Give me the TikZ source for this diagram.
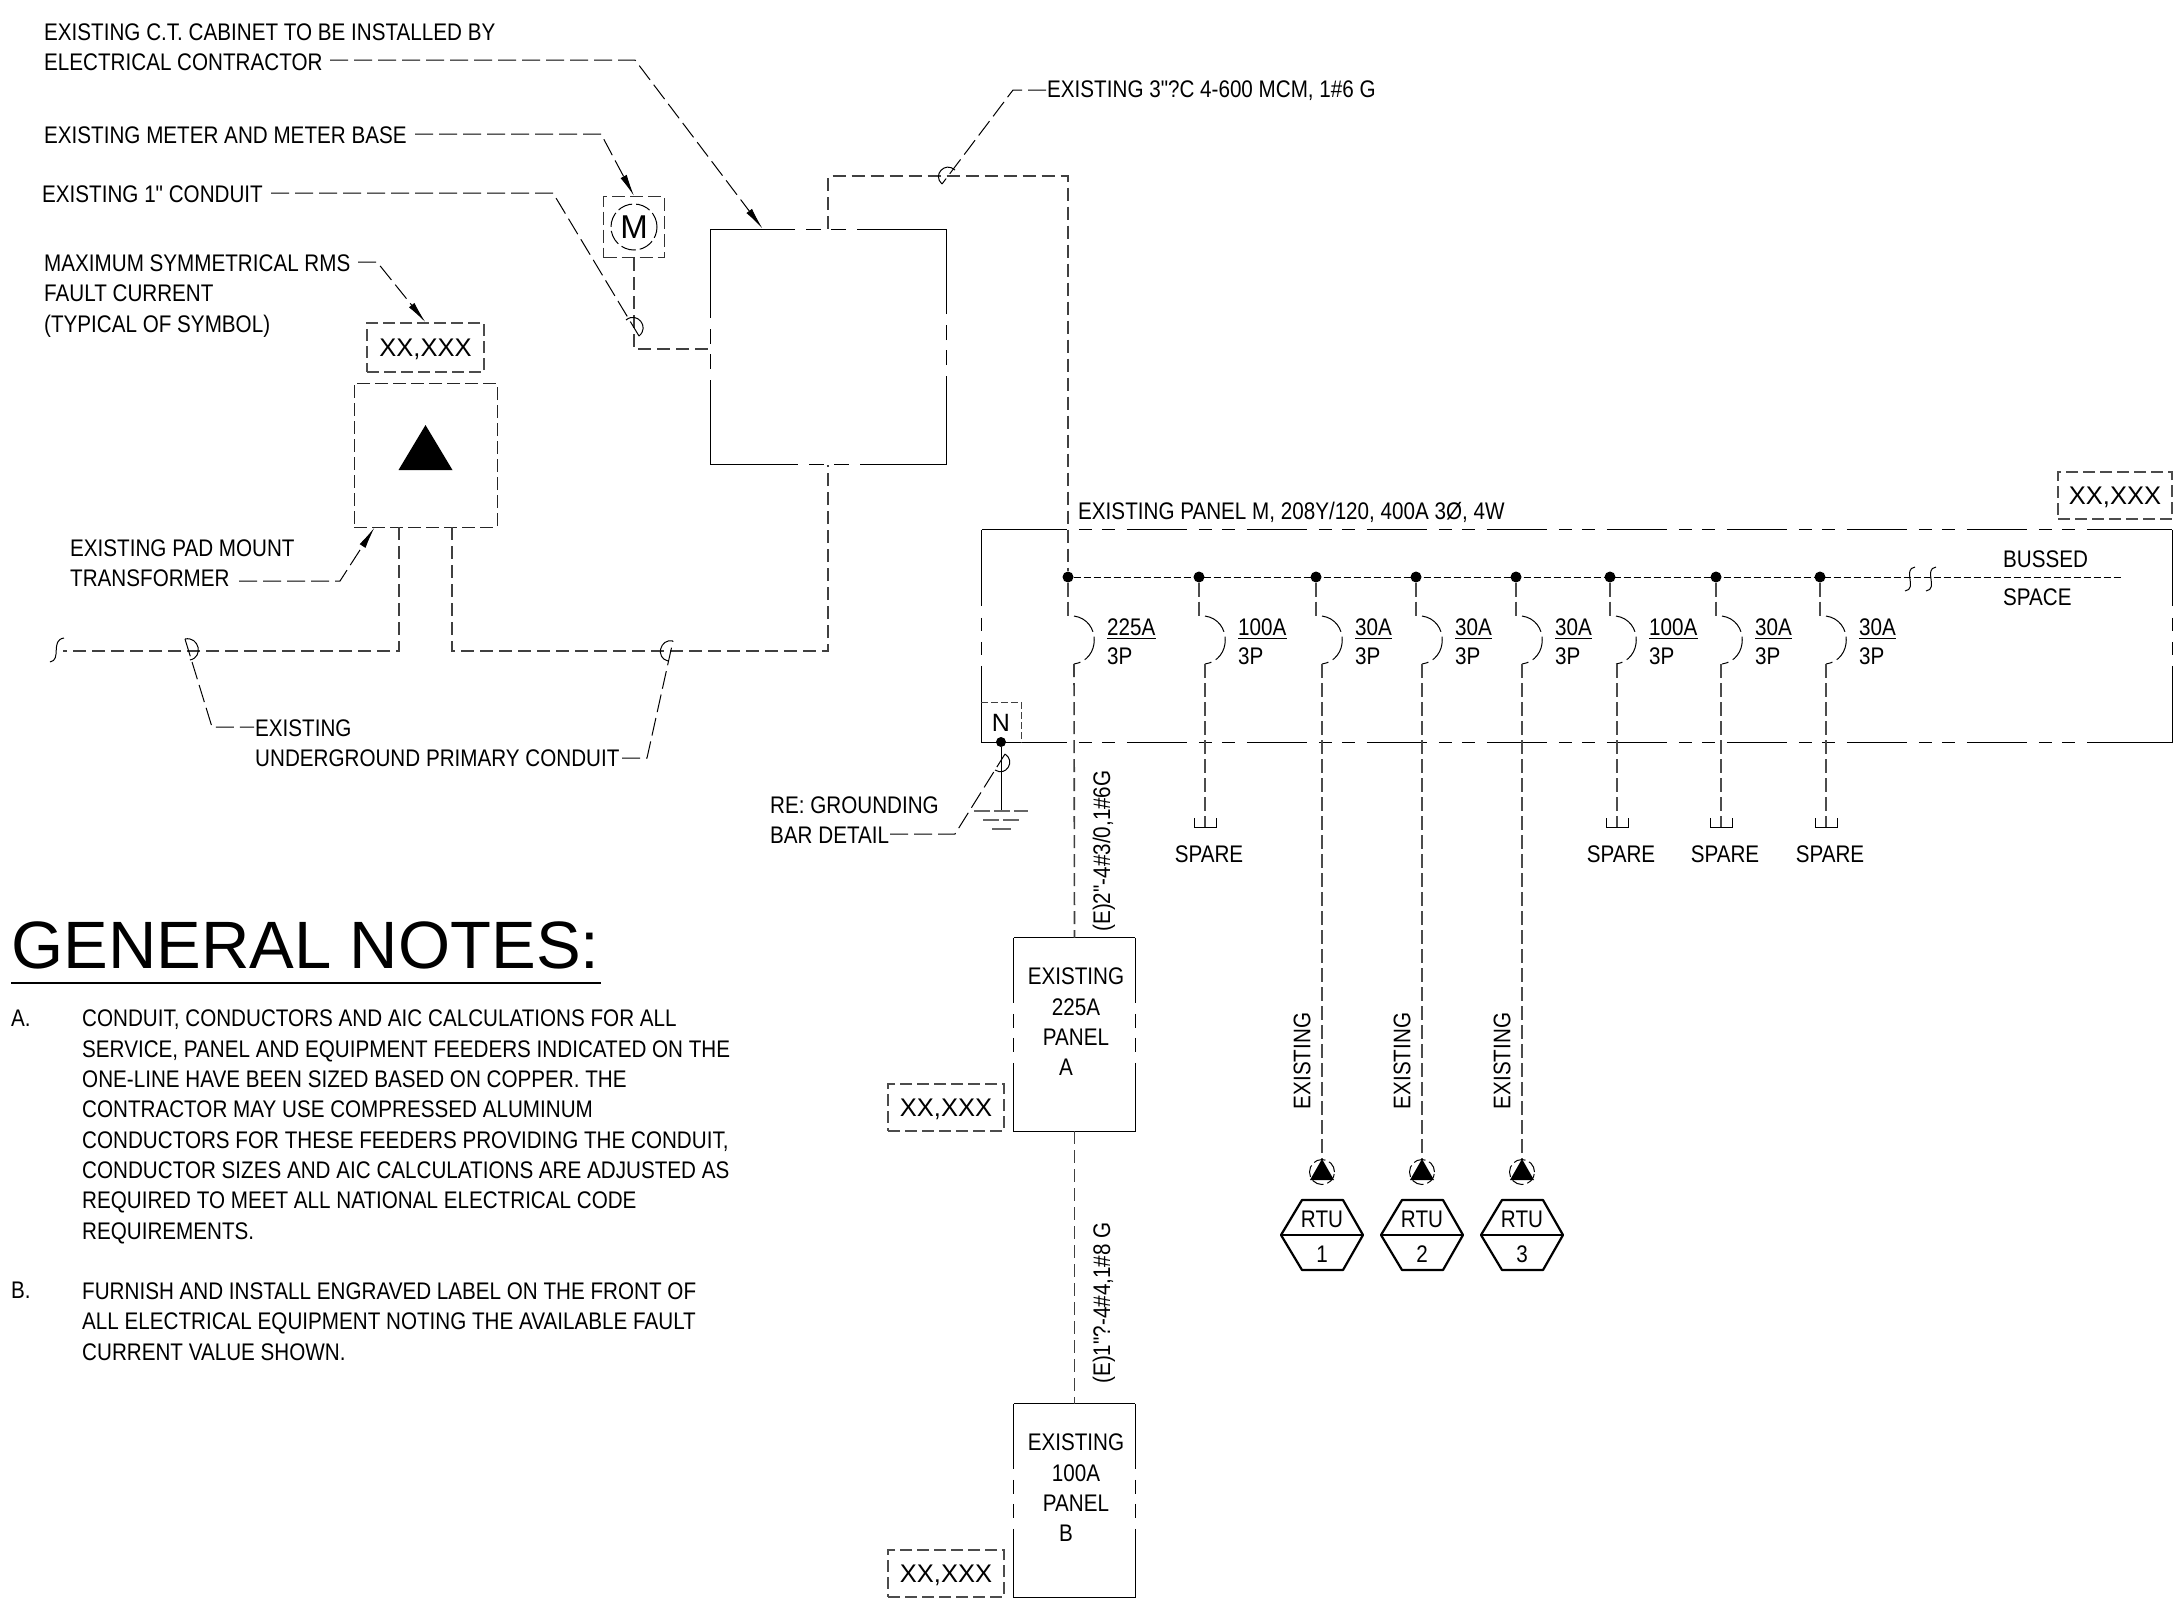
\documentclass[tikz,border=0pt]{standalone}
\usepackage{fontspec}
\setmainfont{Liberation Sans}
\newfontfamily\narrowfont[FakeStretch=0.86]{Liberation Sans}
\newfontfamily\widefont{Liberation Sans}
\usetikzlibrary{arrows.meta}
\tikzset{
  lbl/.style={inner sep=0pt,anchor=west,align=left,font=\narrowfont\fontsize{24}{30.3}\selectfont},
  ctr/.style={inner sep=0pt,align=center,font=\narrowfont\fontsize{24}{30.3}\selectfont},
  xxbox/.style={draw=black!70,line width=1.4pt,dash pattern=on 12pt off 5pt,inner sep=0pt,text height=18pt,text depth=0pt,font=\widefont\fontsize{25.5}{30}\selectfont},
  conduit/.style={draw=black!75,line width=1.6pt,dash pattern=on 13pt off 6pt},
  leader/.style={draw=black,line width=1pt,dash pattern=on 18pt off 6pt},
  feeder/.style={draw=black!70,line width=1.1pt,dash pattern=on 14pt off 5pt},
  tick/.style={draw=black,line width=1pt},
  busdot/.style={circle,fill=black,inner sep=0pt,minimum size=11pt},
  head/.style={-{Latex[length=22pt,width=7pt]}},
  tapbox/.style={inner sep=0pt,minimum width=121pt,minimum height=193pt},
  pnlsolid/.style={draw=black,line width=1.2pt},
  pnldash/.style={draw=black,line width=1.2pt,dash pattern=on 13pt off 10pt on 13pt off 12pt on 60pt off 12pt},
  tapside/.style={draw=black,line width=1.1pt,dash pattern=on 65pt off 11pt on 14pt off 10pt on 14pt off 11pt on 68pt off 0pt}
}
\begin{document}
\begin{tikzpicture}[x=1pt,y=-1pt]
  \useasboundingbox (0,0) rectangle (2180,1615);
  % notes on the left
  \node[lbl] (ctlabel) at (44,47) {EXISTING C.T. CABINET TO BE INSTALLED BY\\ELECTRICAL CONTRACTOR};
  \node[lbl] (meterlabel) at (44,135) {EXISTING METER AND METER BASE};
  \node[lbl] (onelabel) at (42,194) {EXISTING 1" CONDUIT};
  \node[lbl] (faultlabel) at (44,296) {MAXIMUM SYMMETRICAL RMS\\FAULT CURRENT\\(TYPICAL OF SYMBOL)};
  \node[lbl] (padlabel) at (70,563) {EXISTING PAD MOUNT\\TRANSFORMER};
  \node[lbl] (uglabel) at (255,743) {EXISTING\\UNDERGROUND PRIMARY CONDUIT};
  \node[lbl] (gndlabel) at (770,820) {RE: GROUNDING\\BAR DETAIL};
  \node[lbl] (feedlabel) at (1047,91) {EXISTING 3"?C 4-600 MCM, 1\#6 G};
  \node[lbl] (pmlabel) at (1078,512) {EXISTING PANEL M, 208Y/120, 400A 3Ø, 4W};
  % equipment
  \node[inner sep=0pt,draw=black,line width=1pt,minimum width=236pt,minimum height=235pt,
    dash pattern=on 88pt off 11pt on 15pt off 10pt on 15pt off 11pt on 86pt off 0pt] (ctbox) at (828,346.5) {};
  \node[draw=black!80,line width=1.2pt,dash pattern=on 13pt off 5pt,inner sep=0pt,minimum width=61pt,minimum height=61pt] (meterbox) at (634,227) {};
  \node[circle,draw=black,line width=1pt,dash pattern=on 15pt off 4pt,inner sep=0pt,minimum size=46pt,font=\widefont\fontsize{33}{33}\selectfont] (meter) at (634,227) {M};
  \node[xxbox,minimum width=117pt,minimum height=49pt] (xxtrans) at (425.5,347.5) {XX,XXX};
  \node[draw=black!85,line width=1pt,dash pattern=on 13pt off 5pt,inner sep=0pt,minimum width=143pt,minimum height=144pt] (trans) at (425.5,455) {};
  \fill (trans.center) ++(0,-30) -- ++(27,45) -- ++(-54,0) -- cycle;
  \coordinate (primleft) at (399,527);
  \coordinate (primright) at (452,527);
  \coordinate (breakend) at (63,651);
  \draw[conduit] (primleft) -- (399,651) -- (breakend);
  \draw[conduit] (primright) -- (452,651) -- (828,651) -- (ctbox.south);
  \draw[conduit] (ctbox.north) -- (828,176) -- (1068,176) -- (1068,571);
  \draw[conduit] (meterbox.south) -- (634,349) -- (ctbox.west |- 634,349);
  \draw[tick] (64,638) .. controls (50,640) and (62,660) .. (50,662);
  % leaders
  \draw[leader,head] (330,60) -- (635,60) -- ([xshift=53pt]ctbox.north west);
  \draw[leader,head] (415,134) -- (601,134) -- (meterbox.north);
  \draw[leader] (271,193) -- (553,193) -- (639,336);
  \draw[tick] (626,320) .. controls (637,311) and (650,327) .. (639,336);
  \draw[leader,head] (358,262) -- (377,262) -- (xxtrans.north);
  \draw[leader,head] (239,581) -- (340,581) -- ([xshift=21pt]trans.south west);
  \coordinate (ugend) at (254,727);
  \draw[leader] (185,639) -- (212,727) -- (ugend);
  \draw[tick] (185,639) .. controls (199,636) and (204,657) .. (190,660);
  \draw[leader] (622,758) -- (647,758) -- (673,641);
  \draw[tick] (673,641) .. controls (660,638) and (655,658) .. (668,661);
  \draw[leader] (1046,90) -- (1013,90) -- (942,184);
  \draw[tick] (942,184) .. controls (932,175) and (945,161) .. (955,170);
  % panel M
  \node[inner sep=0pt,minimum width=1190pt,minimum height=212pt] (pm) at (1577,636) {};
  \foreach \side in {north,south} {
    \draw[pnlsolid] (pm.\side\space west) -- ([xshift=85pt]pm.\side\space west);
    \draw[pnldash] ([xshift=97pt]pm.\side\space west) -- ([xshift=-97pt]pm.\side\space east);
    \draw[pnlsolid] ([xshift=-85pt]pm.\side\space east) -- (pm.\side\space east);
  }
  \foreach \side in {west,east} {
    \draw[pnlsolid,dash pattern=on 76pt off 12pt on 13pt off 11pt on 13pt off 11pt on 76pt off 0pt] (pm.north\space\side) -- (pm.south\space\side);
  }
  \node[xxbox,minimum width=114pt,minimum height=47pt] (xxpm) at (2115,495.5) {XX,XXX};
  \node[draw=none,inner sep=0pt,minimum width=40pt,minimum height=40pt,font=\widefont\fontsize{25}{30}\selectfont] (nbox) at (1001,723) {N};
  \draw[draw=black!75,line width=1.2pt,dash pattern=on 7pt off 3pt] (nbox.north west) -- (nbox.north east) -- (nbox.south east);
  \node[busdot,minimum size=10pt] (ndot) at (1001,742) {};
  \coordinate (gndtop) at (1001,811);
  \draw[black,line width=1pt] (ndot) -- (gndtop);
  \draw[draw=black!60,line width=1.6pt,dash pattern=on 16pt off 4pt] (974,811) -- (1028,811);
  \draw[draw=black!60,line width=1.6pt,dash pattern=on 16pt off 4pt] (983,820) -- (1020,820);
  \draw[draw=black!60,line width=1.6pt] (992,829) -- (1011,829);
  \draw[leader] (890,834) -- (955,834) -- (1005,754);
  \draw[tick] (1005,754) .. controls (1016,761) and (1006,777) .. (995,770);
  % bus with the breakers
  \foreach \i/\x/\amp in {1/1068/225A,2/1199/100A,3/1316/30A,4/1416/30A,5/1516/30A,6/1610/100A,7/1716/30A,8/1820/30A} {
    \node[busdot] (bus\i) at (\x,577) {};
    \draw[feeder] (bus\i) -- (\x,616);
    \draw[draw=black,line width=1pt,dash pattern=on 26pt off 5pt] (\x+6,616) .. controls (\x+33,620) and (\x+33,660) .. (\x+6,664);
    \node[ctr,anchor=south west,inner ysep=2pt] (amp\i) at (\x+39,638) {\amp};
    \draw[black,line width=1pt] (amp\i.south west) -- (amp\i.south east);
    \node[ctr,anchor=west] (pole\i) at (\x+39,656) {3P};
  }
  \coordinate (busend) at (2121,577);
  \draw[black,line width=1pt,dash pattern=on 7pt off 3pt] (bus1) -- (busend);
  \draw[tick] (1915,567) .. controls (1902,569) and (1918,589) .. (1905,591);
  \draw[tick] (1936,567) .. controls (1923,569) and (1939,589) .. (1926,591);
  \node[lbl] (bussed) at (2003,559) {BUSSED};
  \node[lbl] (space) at (2003,597) {SPACE};
  % spare breakers
  \foreach \i/\x in {2/1205,6/1617,7/1721,8/1826} {
    \coordinate (sparetop\i) at (\x,664);
    \draw[feeder] (sparetop\i) -- (\x,827);
    \draw[black,line width=0.8pt] (\x-11,818) -- (\x-11,827) -- (\x+11,827) -- (\x+11,818);
    \node[ctr] (spare\i) at (\x+4,854) {SPARE};
  }
  % rooftop units
  \foreach \i/\n/\x in {3/1/1322,4/2/1422,5/3/1522} {
    \coordinate (rtutop\n) at (\x,664);
    \draw[feeder] (rtutop\n) -- (\x,1160);
    \node[ctr,rotate=90] (rtuex\n) at (\x-20,1061) {EXISTING};
    \node[circle,draw=black,line width=1pt,dash pattern=on 12pt off 4pt,inner sep=0pt,minimum size=25pt] (pump\n) at (\x,1172) {};
    \fill (\x,1159) -- (\x+12,1180) -- (\x-12,1180) -- cycle;
    \draw[black,line width=2.2pt,line join=round] (\x-41,1235) -- (\x-20,1200) -- (\x+21,1200) -- (\x+41,1235) -- (\x+21,1270) -- (\x-20,1270) -- cycle;
    \draw[black,line width=2.2pt] (\x-41,1235) -- (\x+41,1235);
    \node[ctr] (rtu\n) at (\x,1219) {RTU};
    \node[ctr] (rtunum\n) at (\x,1254) {\n};
  }
  % sub panels
  \node[tapbox] (panela) at (1074.5,1034.5) {};
  \node[tapbox] (panelb) at (1074.5,1500.5) {};
  \foreach \p in {panela,panelb} {
    \draw[black,line width=1.1pt] (\p.north west) -- (\p.north east);
    \draw[black,line width=1.1pt] (\p.south west) -- (\p.south east);
    \draw[tapside] (\p.north west) -- (\p.south west);
    \draw[tapside] (\p.north east) -- (\p.south east);
  }
  \node[ctr] (panelatext) at (1076,1022) {EXISTING\\225A\\PANEL\\A\hspace*{20pt}};
  \node[ctr] (panelbtext) at (1076,1488) {EXISTING\\100A\\PANEL\\B\hspace*{20pt}};
  \node[xxbox,minimum width=116pt,minimum height=47pt] (xxa) at (946,1107.5) {XX,XXX};
  \node[xxbox,minimum width=116pt,minimum height=47pt] (xxb) at (946,1573.5) {XX,XXX};
  \draw[conduit] (1074,664) -- (panela.north);
  \draw[conduit] (panela.south) -- (panelb.north);
  \node[ctr,rotate=90] (feedera) at (1104,851) {(E)2"-4\#3/0,1\#6G};
  \node[ctr,rotate=90] (feederb) at (1104,1303) {(E)1"?-4\#4,1\#8 G};
  % general notes
  \node[inner sep=0pt,anchor=west,font=\widefont\fontsize{67}{70}\selectfont] (title) at (11,945) {GENERAL NOTES:};
  \coordinate (ruleleft) at (11,983);
  \coordinate (ruleright) at (601,983);
  \draw[black,line width=1.5pt] (ruleleft) -- (ruleright);
  \node[lbl] (noteamark) at (11,1018) {A.};
  \node[lbl,anchor=north west] (notea) at (82,1010) {CONDUIT, CONDUCTORS AND AIC CALCULATIONS FOR ALL\\SERVICE, PANEL AND EQUIPMENT FEEDERS INDICATED ON THE\\ONE-LINE HAVE BEEN SIZED BASED ON COPPER. THE\\CONTRACTOR MAY USE COMPRESSED ALUMINUM\\CONDUCTORS FOR THESE FEEDERS PROVIDING THE CONDUIT,\\CONDUCTOR SIZES AND AIC CALCULATIONS ARE ADJUSTED AS\\REQUIRED TO MEET ALL NATIONAL ELECTRICAL CODE\\REQUIREMENTS.};
  \node[lbl] (notebmark) at (11,1290) {B.};
  \node[lbl,anchor=north west] (noteb) at (82,1282.5) {FURNISH AND INSTALL ENGRAVED LABEL ON THE FRONT OF\\ALL ELECTRICAL EQUIPMENT NOTING THE AVAILABLE FAULT\\CURRENT VALUE SHOWN.};
\end{tikzpicture}
\end{document}
